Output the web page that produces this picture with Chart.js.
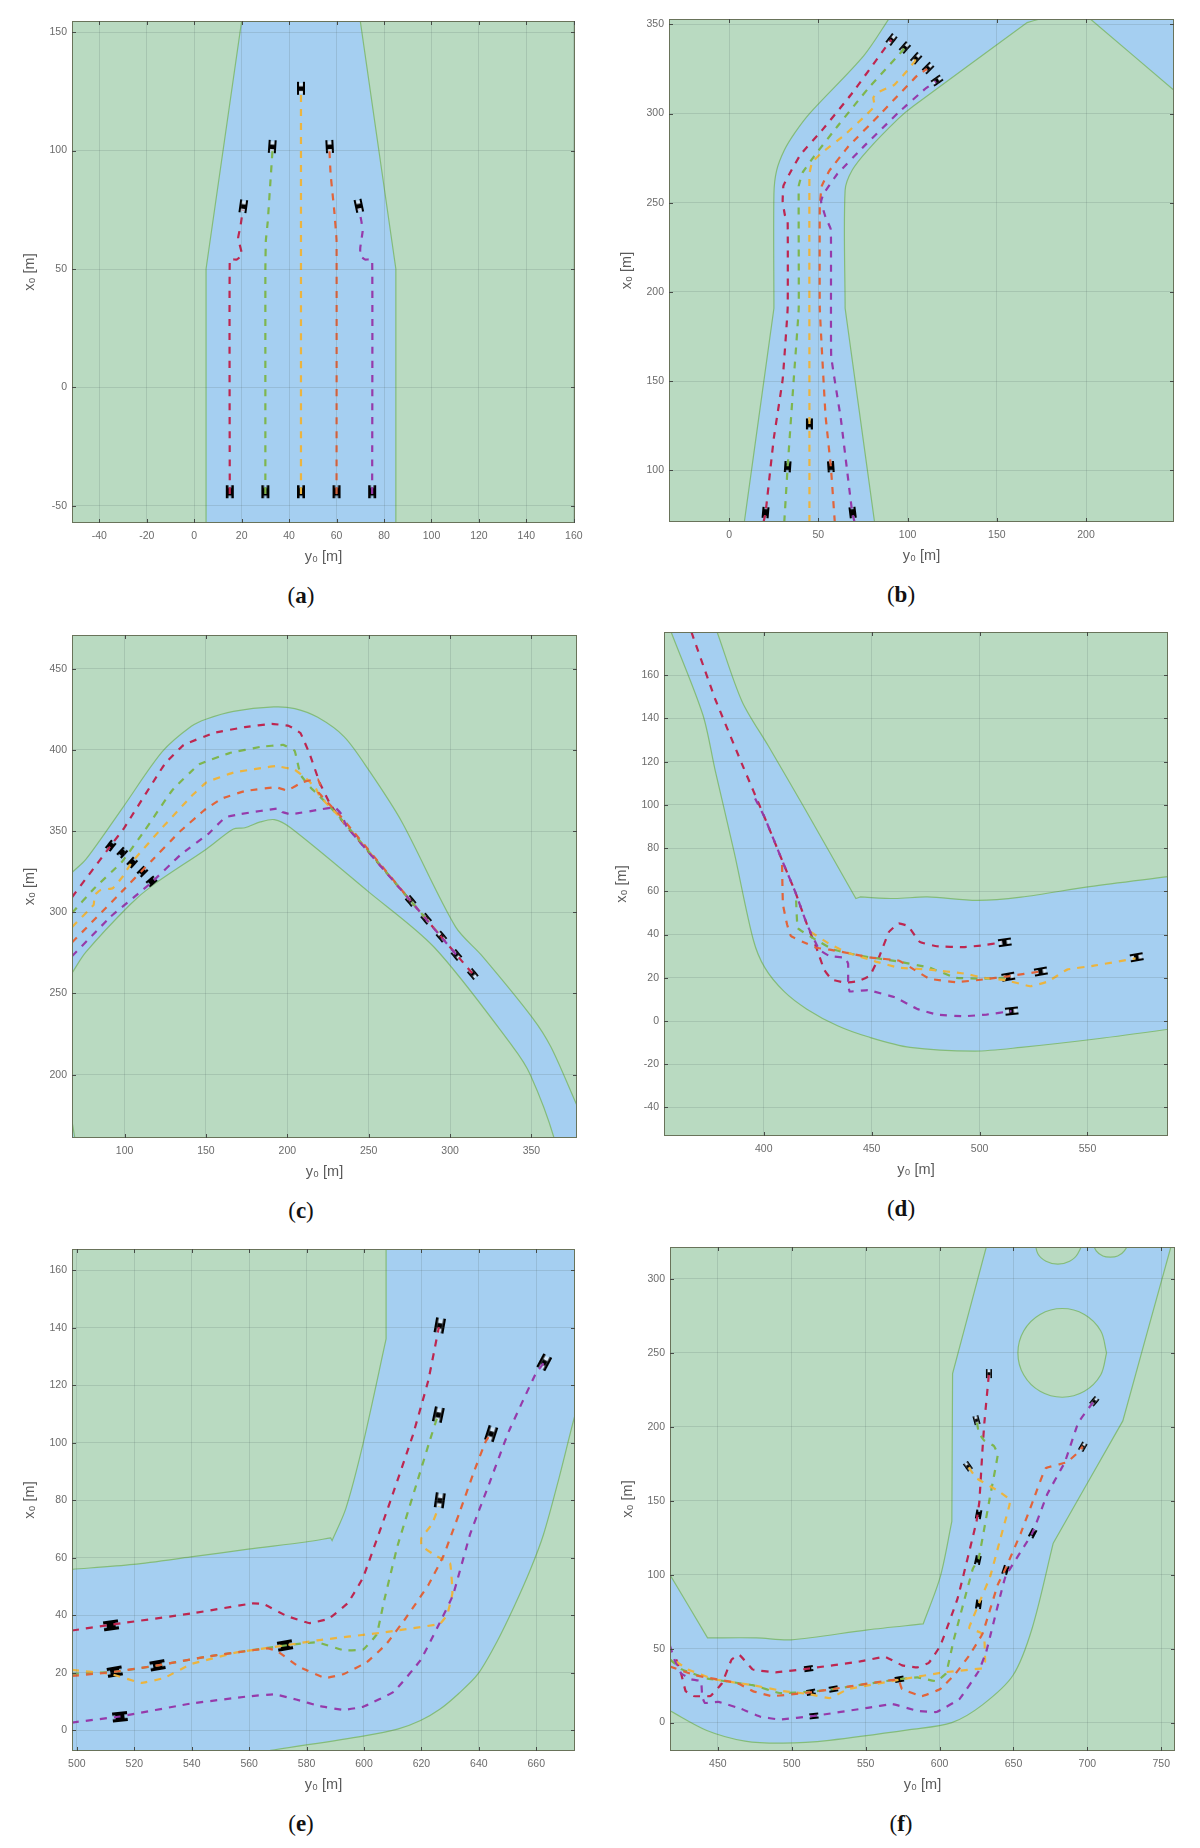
<!DOCTYPE html>
<html>
<head>
<meta charset="utf-8">
<title>Trajectories</title>
<script src="https://cdn.jsdelivr.net/npm/chart.js@4"></script>
<style>
  html, body { margin: 0; background: #fff; }
  #page { position: relative; width: 1200px; height: 1848px; overflow: hidden; }
  canvas { position: absolute; filter: blur(0.45px); }
  .cap { position: absolute; width: 120px; margin-left: -60px; text-align: center;
         font: 23px "Liberation Serif", serif; color: #111; }
</style>
</head>
<body>
<div id="page"></div>
<script>
// all pairs are [y0, x0] in metres, cars are [y0, x0, heading]
// a pair typed twice keeps a sharp corner on the road edge

// (a)
const xTicksA = [-40, -20, 0, 20, 40, 60, 80, 100, 120, 140, 160];
const yTicksA = [-50, 0, 50, 100, 150];
const roadA = [[5,-60],[5,50],[20,154.7],[20,158],[70,158],[70,154.7],[85,50],[85,-60],[5,-60]];
const redA = [[15,-45],[15,54],[18,54],[20.2,56],[18.5,63],[19.5,68],[20.5,75]];
const greenA = [[30,-45],[30,50],[30.2,62],[31,70],[32,85],[33,100]];
const yellowA = [[45,-45],[45,125]];
const orangeA = [[60,-45],[60,62],[59,75],[57.5,90],[57,100]];
const purpleA = [[75,-45],[75,54],[72,54],[70,55.5],[70,59],[71,66],[70.5,70],[69.5,75]];
const solidCarsA = [[15,-44,0],[30,-44,0],[45,-44,0],[60,-44,0],[75,-44,0]];
const hollowCarsA = [[20.7,76.5,8],[32.9,101.7,4],[45,126.3,0],[57.1,101.7,-3],[69.4,76.7,-12]];

// (b)
const xTicksB = [0, 50, 100, 150, 200];
const yTicksB = [100, 150, 200, 250, 300, 350];
const roadB = [[8.1,68],[8.1,68],[25.1,190.8],[25.1,190.8],[25.1,255],[26.6,268],[30.9,279.4],[36.9,289.3],[45.4,300.4],[75.5,332.5],[89.8,353.5],[89.8,353.5],[93,358],[176,358],[174,353],[174,353],[167,351],[167,351],[103.3,304.2],[94.7,297],[77.6,279.4],[69,268.3],[65,257],[65,190.8],[65,190.8],[81.9,68],[81.9,68],[8.1,68]];
const roadB2 = [[202.4,353],[249.3,313],[255,308],[255,358],[196,358],[202.4,353]];
const redB = [[19.3,71],[20.4,76],[25,117.7],[30,151],[32.8,190.8],[32.8,239.5],[31.3,242.8],[30,250.6],[30.4,259.4],[33.7,266],[40,277],[51.9,290.4],[69,311.5],[88.3,338],[91,341.4]];
const greenB = [[30.9,71],[32.8,102],[36.2,151],[39,190.8],[39,259.4],[41.2,267],[47.6,276],[60.5,292.6],[77.6,313.7],[94.7,332.5],[98.2,336.5]];
const yellowB = [[45,71],[45,126],[45,266],[46.5,272.7],[51.9,278],[64.7,288],[75.5,298],[81.5,304],[80.8,309],[83.5,312],[92.5,316],[98.9,323],[103.8,329],[104.6,330.7]];
const orangeB = [[59.2,71],[57,102],[54,131],[50.8,190.8],[50.8,248],[51.9,259.4],[56.2,268],[66.9,281.6],[84,299],[105.5,321.4],[111,325]];
const purpleB = [[70.3,71],[69,76],[62.6,128.8],[57.2,164],[57,235],[54,242],[51.5,250.6],[52.9,255],[60.5,266],[75.5,281.6],[94.7,300.4],[109.7,313.7],[116,318]];
const solidCarsB = [[20.4,76.3,5],[32.8,102,4],[45,126,0],[57,102,-4],[69.2,76.3,-7]];
const hollowCarsB = [[91,341.5,38],[98.5,337,42],[104.8,331,42],[111.5,325.5,45],[116.5,318.5,55]];

// (c)
const xTicksC = [100, 150, 200, 250, 300, 350];
const yTicksC = [200, 250, 300, 350, 400, 450];
const roadC = [[62,318],[67.8,324.5],[76.2,332.5],[98.6,364],[123.3,399],[141,414.5],[150.4,419],[166.9,423.7],[191.6,426.4],[204.6,425.4],[218.7,420],[235,408],[250.4,387],[270.4,355.6],[303.4,291],[319.8,273],[350.4,235.3],[362,217],[378,181],[384,168],[384,156],[362,156],[363.9,161],[349.3,200],[338.7,217],[290.4,278.3],[249.4,313],[202,352],[192,357],[183.4,355.6],[174,352],[166.9,351.3],[150.4,339],[117.4,316.7],[103.3,304.6],[76.2,275.4],[67.8,262.7],[62,254],[62,318]];
const roadC2 = [[67.8,170.8],[69.4,161],[69.8,156],[62,156],[62,170.8],[67.8,170.8]];
const redC = [[67.8,309.4],[91.5,341],[99.8,352],[124.5,391],[136.3,403],[155,410.4],[173.9,414],[190.4,416],[201,414.7],[208,410.4],[213.9,397],[219.8,380],[225.7,367.8],[230.4,360.5],[236.3,353],[275.8,307],[314,262]];
const greenC = [[67.8,299.7],[81,314.3],[98.6,331.3],[112.7,350.8],[129.2,375],[145.7,391],[164.5,398],[183.4,401.8],[197.5,403],[204.5,399.4],[208,384.8],[211.6,380],[215,376],[218.6,372.7],[230.4,360.5],[275.8,307],[285.3,296]];
const yellowC = [[67.8,291],[81,304.6],[81.6,310.6],[85,313.6],[92.7,314.8],[98.6,321.6],[104.5,330.8],[122,350.8],[141,371.4],[150.4,380],[166.9,386],[192.8,390],[204.5,387.7],[211.6,382.4],[217.5,376.3],[219.8,371.4],[230.4,360.5],[275.8,307],[294.7,285]];
const orangeC = [[67.8,281.5],[98.6,313],[116.2,331.3],[133.9,349.6],[149.2,363],[159.8,370],[173.9,374.6],[192.8,377],[199.9,375],[209.2,380],[218.6,382],[220.5,377.5],[219,374],[225.7,366.6],[231.6,360.5],[275.8,307]];
const purpleC = [[67.8,273],[91.5,297.3],[116.2,318],[134,335],[151.5,348.3],[162,358.5],[171.6,360.5],[195,364],[196.9,361.7],[202.2,360.3],[218.6,363],[229.2,364.6],[233.2,360.5],[236.3,353],[275.8,307],[303.9,273.7]];
const solidCarsC = [[91.5,341,38],[98.6,336.7,42],[104.7,330.6,42],[111,325,45],[116.6,319,50]];
const hollowCarsC = [[275.8,307,140],[285.3,296,140],[294.7,285,140],[303.9,273.7,140],[314,262,140]];

// (d)
const xTicksD = [400, 450, 500, 550];
const yTicksD = [-40, -20, 0, 20, 40, 60, 80, 100, 120, 140, 160];
const roadD = [[355,186],[357.1,180],[371.8,141.7],[377.5,116],[386.4,77.7],[395.2,37.5],[400.5,24.7],[409.4,13.7],[420,5.5],[434.2,-2.2],[448.3,-7.3],[467.8,-12.2],[497.9,-13.9],[519.2,-12.2],[554.6,-8.2],[587.4,-3.8],[592,-3],[592,67.4],[587.4,66.8],[551,62.2],[519.2,57.3],[498.8,55.8],[475.8,57.4],[460.7,56.7],[444.8,57.4],[444.8,57.4],[442.7,56.7],[442.7,56.7],[418.2,99.7],[402.3,127],[389.9,148],[378.4,180],[376,186],[355,186]];
const redD = [[366.5,180],[377.5,149],[389.9,119],[400.5,94],[409.4,72.2],[414.7,59.5],[420,44.8],[424.4,33.9],[428,23.8],[431.5,19.2],[437.7,17.8],[443.9,18.5],[449.2,21],[453.7,30.2],[458,41.2],[462.5,45.2],[466.9,43.9],[472.3,36.6],[480.2,34.6],[492.6,34.2],[501.5,35],[510.3,36.4]];
const greenD = [[415,55.8],[415.8,43],[423.6,37.9],[432.4,33],[444.8,30.2],[462.5,27.5],[476.7,24.7],[489,20],[501.5,19.6],[513.3,20.1]];
const yellowD = [[421.8,41.2],[428.9,36.6],[437.7,32],[451.9,27.5],[462.5,24.7],[476.7,23.8],[492.6,22],[501.5,20.1],[512.1,18.9],[523.6,16.1],[531.7,18.3],[540.6,23.8],[553,25.6],[572.3,29]];
const orangeD = [[408.5,72.2],[408.9,54],[410.8,44.8],[412.6,39.3],[418.2,36.6],[424.4,33.9],[430.6,33],[441.3,31],[450,29.3],[462.5,28],[468.2,24.7],[476.7,19.6],[489,18],[501.5,19.2],[513.3,20.7],[528,22.9]];
const purpleD = [[396,103],[400.5,94],[409.4,72.2],[414.7,59.5],[420,44.8],[425.7,33],[430.6,30],[437.7,29.3],[439.1,26.5],[439.1,17.4],[439.8,13.7],[448.3,14.3],[460.7,11],[471.4,5.5],[480.2,3],[492.6,2.2],[503.2,3],[514.8,4.6]];
const solidCarsD = [];
const hollowCarsD = [[511.7,36.4,82],[513.3,20.5,80],[528.4,22.9,80],[572.8,29.5,80],[514.9,4.6,84]];

// (e)
const xTicksE = [500, 520, 540, 560, 580, 600, 620, 640, 660];
const yTicksE = [0, 20, 40, 60, 80, 100, 120, 140, 160];
const roadE = [[494,-10],[494,55.7],[498.3,56],[519.7,57.7],[539.7,60.3],[559.7,63],[579.7,65.5],[588.4,66.9],[588.4,66.9],[588.9,66],[588.9,66],[593.7,77.2],[599.7,99.8],[607.7,136.1],[607.7,136.1],[607.7,172],[607.7,172],[678,172],[678,172],[678,125],[678,125],[673.5,109.7],[668,88],[662.5,68],[658,56],[652.5,43.5],[646.4,31],[639.7,19.6],[633,12.8],[626.4,7.3],[619.7,3.4],[611.7,0.4],[599.7,-2],[566.4,-7.2],[550,-10],[550,-10],[494,-10]];
const redE = [[498.3,34.7],[511.7,36.7],[539.7,40.6],[561,44.1],[565,43.9],[573,39.8],[581,37.3],[587.7,38.8],[594.4,44.3],[599.7,53.2],[609,79.2],[617,102.6],[622.4,121.7],[626.1,140.3]];
const greenE = [[498.3,19.6],[513,20.3],[528.4,22.6],[546.4,25.8],[572.4,29.5],[583.7,30.6],[593,27.8],[599.7,28.1],[604.4,33.3],[607,45],[611.7,64.2],[618.4,86],[623,101],[625.7,109.4]];
const yellowE = [[498.3,21],[511.7,19.6],[522.4,16.5],[530.4,18.2],[539.7,23],[555.7,27.1],[572.4,29.5],[583.8,31.3],[606.4,34],[626.4,37],[629,40.2],[630.8,47.7],[630,58],[625,60.7],[620,64.2],[620,66.9],[623.7,71.7],[626.1,77.9]];
const orangeE = [[498.3,18.9],[513,20.3],[528.1,22.6],[546.4,25.8],[566.4,28.5],[569.7,27.6],[577,22.3],[586.4,18.2],[593,19.6],[601,23.7],[607.7,29.9],[614.4,38.8],[622.4,50.5],[627.7,60.7],[633,75],[638.4,90.2],[642.4,100.5],[644,103]];
const purpleE = [[498.3,2.7],[515,4.8],[539.7,9.3],[559.7,11.8],[569,12.5],[576.4,10.7],[584.7,8.4],[593,7.1],[599.7,8.2],[610.4,13.4],[619.7,24.4],[626.4,37.4],[631,47],[637,68.3],[643.7,86],[650.4,103.9],[659.7,123.8],[662.7,127.9]];
const solidCarsE = [[511.9,36.5,82],[513.2,20.4,80],[528.1,22.6,80],[515,4.7,84],[572.5,29.5,80]];
const hollowCarsE = [[626.4,140.8,10],[625.9,109.8,12],[626.4,80,8],[644.3,103.2,18],[662.8,128,28]];

// (f)
const xTicksF = [450, 500, 550, 600, 650, 700, 750];
const yTicksF = [0, 50, 100, 150, 200, 250, 300];
const roadF = [[412,-22],[412,-22],[412,109],[412,109],[417.6,100],[417.6,100],[443,57.3],[443,57.3],[476.2,57.3],[499.5,56],[551.3,62.7],[588.9,66.7],[588.9,66.7],[600.5,98.7],[608.3,136],[608.3,136],[608.8,236],[608.8,236],[631.6,321.6],[633,326],[633,326],[758,326],[758,326],[756.5,321.6],[724,204],[724,204],[676.9,121.3],[676.9,121.3],[662.7,64],[649.7,32],[629,12],[608.3,0],[579.8,-4.8],[525.4,-12],[494.3,-13.9],[468.4,-12.5],[442.5,-5.3],[417.6,8],[412,11],[412,11],[412,-22]];
const holeF1 = [[713,250],[709,265],[698,276],[683,280],[668,276],[657,265],[653,250],[657,235],[668,224],[683,220],[698,224],[709,235],[713,250]];
const holeF2 = [[664.5,325.5],[666.5,317],[672,312],[680,310],[688,312],[693.5,317],[695.5,325.5],[664.5,325.5]];
const holeF3 = [[703,326],[706,319],[710.5,315.5],[715.5,314.7],[720.5,315.5],[725,319],[728,326],[703,326]];
const redF = [[421.8,42.7],[425.1,33.3],[428.2,21.3],[433.4,18],[445,18],[452.8,26.7],[459.3,42.7],[464.5,45.9],[473.5,36],[489,34],[511.1,36.5],[546,41.3],[563,44.5],[574.7,38.7],[585,37.3],[592.8,40.5],[600.5,52],[612.2,84],[625,136],[626.9,149.3],[629,184],[630.3,202.7],[633.4,236]];
const greenF = [[417.6,42.7],[425.6,36],[442.5,29.9],[473.6,25.3],[491.7,20],[512.4,20.8],[528,22.7],[572,29.3],[585,30.6],[598,28],[604.4,33.3],[609.6,56],[622.5,104],[626.4,110.7],[634,152],[639.4,181.3],[636.8,187],[630.3,190.7],[626.5,196],[625.1,204.5]];
const yellowF = [[421.8,41.3],[429.5,36],[447.7,29.3],[473.6,25.3],[494.3,21.3],[512.4,19.2],[525.4,16.5],[538.3,22.7],[574.6,29.3],[603,34],[629,36.8],[630.8,41.3],[630.3,56],[627.7,60.8],[620,64],[621.8,68.8],[626.4,80],[634.2,98.7],[640.7,122.7],[647.2,146.7],[647.7,150.7],[639.4,156.8],[625,165.3],[619.2,173.3]];
const orangeF = [[417.6,37.9],[434.7,32],[463,26.7],[473.6,21.3],[486.5,17.9],[512.4,20.5],[528,22.7],[572,29.3],[574.6,22.7],[588,17.9],[600.5,22.7],[610.9,33.3],[620,45.3],[629,60],[639.4,93.3],[644.6,104],[654.9,128],[664,152],[671.8,172],[686,176],[693.8,182.7],[696.9,186.7]];
const purpleF = [[417.6,52],[420.5,42.7],[425.1,33.3],[432,29.3],[438.6,28],[439.4,17.3],[441.2,13.3],[450.3,14],[465.8,9.3],[478.8,4],[491.7,2.1],[515,4.5],[551.3,10],[568.1,12.5],[585,8],[598,7.2],[613.5,16],[626.4,34.7],[631.6,48],[644.6,98.7],[662.7,128],[673,154.7],[684.7,176],[693.8,202.7],[704,216.8]];
const solidCarsF = [[511.4,36.5,82],[513,20.5,80],[528.2,22.7,80],[515,4.5,84],[572.8,29.3,80],[626.4,140.8,10],[625.9,109.9,12],[626.4,80,8],[644.6,103.2,18],[663,128,28]];
const hollowCarsF = [[633.4,236,0],[625,204.5,-15],[619.2,173.3,-35],[696.9,186.5,30],[704.7,217.3,40]];

const GREEN_BG = 'rgb(185,218,193)';
const BLUE_ROAD = 'rgb(165,207,241)';
const ROAD_EDGE = 'rgb(132,188,122)';
const LINE_COLORS = ['rgb(190,38,80)', 'rgb(126,182,78)', 'rgb(236,180,62)', 'rgb(226,100,58)', 'rgb(150,58,170)'];

function toXY(list) {
  return list.map(p => ({x: p[0], y: p[1]}));
}

function carImage(w, h, hollow) {
  let c = document.createElement('canvas');
  c.width = Math.ceil(w) + 2;
  c.height = Math.ceil(h) + 2;
  let g = c.getContext('2d');
  g.translate(1, 1);
  let bar = hollow ? Math.max(1.5, w * 0.26) : w * 0.32;
  if (hollow) {
    g.fillStyle = 'rgba(255,255,255,0.55)';
    g.fillRect(0, h * 0.1, w, h * 0.8);
  }
  g.fillStyle = '#000';
  g.fillRect(0, 0, bar, h);
  g.fillRect(w - bar, 0, bar, h);
  if (hollow) {
    g.fillRect(w * 0.25, h * 0.35, w * 0.5, h * 0.35);
  } else {
    g.fillRect(0, h * 0.2, w, h * 0.6);
  }
  return c;
}

function roadSet(list, tension) {
  return {data: toXY(list), showLine: true, fill: 'shape', backgroundColor: BLUE_ROAD, tension: tension,
          borderColor: ROAD_EDGE, borderWidth: 1.2, pointRadius: 0, order: 100};
}

function holeSet(list) {
  return {data: toXY(list), showLine: true, fill: 'shape', backgroundColor: GREEN_BG, tension: 0.35,
          borderColor: ROAD_EDGE, borderWidth: 1.2, pointRadius: 0, order: 90};
}

function pathSet(list, i) {
  return {data: toXY(list), showLine: true, fill: false, borderColor: LINE_COLORS[i], borderWidth: 2.2,
          borderDash: [7, 7], tension: 0.08, pointRadius: 0, order: 44 - i};
}

function carSet(list, img) {
  return {data: toXY(list), showLine: false, pointStyle: img, pointRadius: 4,
          pointRotation: list.map(p => p[2]), order: 50};
}

const framePlugin = {
  id: 'frame',
  beforeDatasetsDraw(chart) {
    let a = chart.chartArea;
    chart.ctx.fillStyle = GREEN_BG;
    chart.ctx.fillRect(a.left, a.top, a.right - a.left, a.bottom - a.top);
  },
  afterDraw(chart) {
    let a = chart.chartArea, ctx = chart.ctx;
    ctx.save();
    ctx.strokeStyle = 'rgb(105,115,90)';
    ctx.lineWidth = 1;
    ctx.strokeRect(a.left + 0.5, a.top + 0.5, a.right - a.left - 1, a.bottom - a.top - 1);
    ctx.strokeStyle = 'rgb(70,75,70)';
    ctx.beginPath();
    chart.scales.x.ticks.forEach(t => {
      let px = Math.round(chart.scales.x.getPixelForValue(t.value)) + 0.5;
      ctx.moveTo(px, a.bottom); ctx.lineTo(px, a.bottom - 4);
      ctx.moveTo(px, a.top); ctx.lineTo(px, a.top + 4);
    });
    chart.scales.y.ticks.forEach(t => {
      let py = Math.round(chart.scales.y.getPixelForValue(t.value)) + 0.5;
      ctx.moveTo(a.left, py); ctx.lineTo(a.left + 4, py);
      ctx.moveTo(a.right, py); ctx.lineTo(a.right - 4, py);
    });
    ctx.stroke();
    ctx.restore();
  }
};

function axis(min, max, tickList, title, isX) {
  let fit = isX ? (s => { s.height = 55; }) : (s => { s.width = 55; });
  return {
    type: 'linear', min: min, max: max,
    afterBuildTicks(s) { s.ticks = tickList.map(v => ({value: v})); },
    afterFit(s) { fit(s); s.paddingLeft = 0; s.paddingRight = 0; s.paddingTop = 0; s.paddingBottom = 0; },
    grid: {color: 'rgba(80,95,95,0.17)', lineWidth: 1, drawTicks: false, z: 1},
    border: {display: false},
    ticks: {color: '#6b6b6b', font: {family: '"Liberation Sans"', size: 10.5}, padding: isX ? 7 : 5,
            autoSkip: false, maxRotation: 0, callback: v => String(v)},
    title: {display: true, text: title, color: '#5a5a5a', font: {family: '"Liberation Sans"', size: 14.5},
            padding: isX ? {top: 0, bottom: 12} : {top: 4, bottom: 0}}
  };
}

function panel(label, col, rect, xr, yr, xt, yt, roads, tension, holes, paths, solid, hollow, carW, carH) {
  let page = document.getElementById('page');
  let c = document.createElement('canvas');
  let w = 600, h = rect[3] - rect[1] + 10 + 55;
  c.width = w; c.height = h;
  c.style.left = col + 'px';
  c.style.top = (rect[1] - 10) + 'px';
  c.style.width = w + 'px';
  c.style.height = h + 'px';
  page.appendChild(c);

  let sets = roads.map(r => roadSet(r, tension)).concat(holes.map(holeSet));
  paths.forEach((p, i) => sets.push(pathSet(p, i)));
  if (solid.length) sets.push(carSet(solid, carImage(carW, carH, false)));
  if (hollow.length) sets.push(carSet(hollow, carImage(carW, carH, true)));

  new Chart(c, {
    type: 'scatter',
    data: {datasets: sets},
    options: {
      responsive: false, animation: false,
      layout: {padding: {left: rect[0] - col - 55, right: col + w - rect[2], top: 10, bottom: 0}},
      plugins: {legend: {display: false}, tooltip: {enabled: false}, title: {display: false}},
      scales: {x: axis(xr[0], xr[1], xt, 'y\u2080 [m]', true), y: axis(yr[0], yr[1], yt, 'x\u2080 [m]', false)}
    },
    plugins: [framePlugin]
  });

  let cap = document.createElement('div');
  cap.className = 'cap';
  cap.style.left = (col + 301) + 'px';
  cap.style.top = (rect[3] + 60) + 'px';
  cap.innerHTML = '(<b>' + label + '</b>)';
  page.appendChild(cap);
}

panel('a', 0, [72,21,575,523], [-51.5,160.5], [-57.2,154.7], xTicksA, yTicksA, [roadA], 0, [],
  [redA, greenA, yellowA, orangeA, purpleA], solidCarsA, hollowCarsA, 8, 13);
panel('b', 600, [669,19,1174,522], [-33.7,249.3], [71,353], xTicksB, yTicksB, [roadB, roadB2], 0.3, [],
  [redB, greenB, yellowB, orangeB, purpleB], solidCarsB, hollowCarsB, 7, 11);
panel('c', 0, [72,635,577,1138], [67.7,378], [161,470.7], xTicksC, yTicksC, [roadC, roadC2], 0.3, [],
  [redC, greenC, yellowC, orangeC, purpleC], solidCarsC, hollowCarsC, 7, 10);
panel('d', 600, [664,632,1168,1136], [353.8,587.3], [-53.2,180], xTicksD, yTicksD, [roadD], 0.3, [],
  [redD, greenD, yellowD, orangeD, purpleD], solidCarsD, hollowCarsD, 8, 13);
panel('e', 0, [72,1249,575,1751], [498.3,673.5], [-7.2,167.4], xTicksE, yTicksE, [roadE], 0.3, [],
  [redE, greenE, yellowE, orangeE, purpleE], solidCarsE, hollowCarsE, 10, 15);
panel('f', 600, [670,1247,1175,1751], [417.6,759.3], [-19.2,321.6], xTicksF, yTicksF, [roadF], 0.3, [holeF1, holeF2, holeF3],
  [redF, greenF, yellowF, orangeF, purpleF], solidCarsF, hollowCarsF, 6, 9);
</script>
</body>
</html>
